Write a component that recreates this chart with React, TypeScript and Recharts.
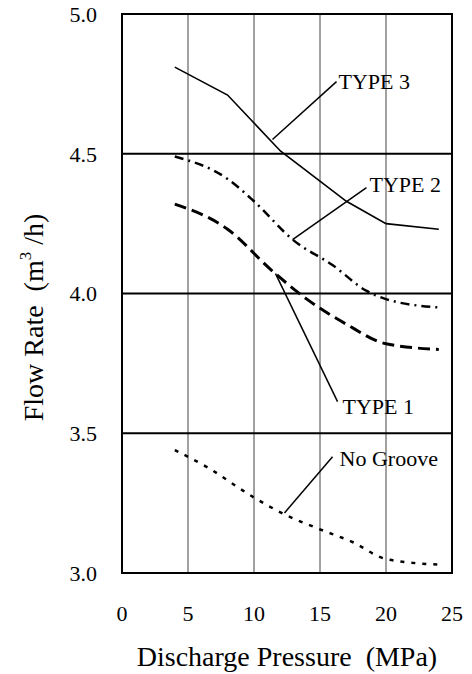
import {
  LineChart,
  Line,
  XAxis,
  YAxis,
  CartesianGrid,
  ReferenceLine,
  ReferenceArea,
  ReferenceDot,
  Label,
} from "recharts"

const xTicks = [0, 5, 10, 15, 20, 25]
const yTicks = [3.0, 3.5, 4.0, 4.5, 5.0]

// (MPa -> m3/h)
const type3Pressure = [4, 8, 12, 17, 20, 24]
const type3Flow = [4.81, 4.71, 4.51, 4.33, 4.25, 4.23]

const type2Pressure = [4, 8, 10, 13, 16, 18.5, 20, 24]
const type2Flow = [4.49, 4.41, 4.33, 4.19, 4.1, 4.01, 3.98, 3.95]

const type1Pressure = [4, 8, 11.4, 14, 17, 20, 24]
const type1Flow = [4.32, 4.23, 4.08, 3.98, 3.89, 3.82, 3.8]

const noGroovePressure = [4, 6.4, 10, 12.3, 14.8, 17.5, 20, 24]
const noGrooveFlow = [3.44, 3.38, 3.27, 3.21, 3.16, 3.11, 3.05, 3.03]

const toPoints = (xs: number[], ys: number[]) => xs.map((x, i) => ({ x, y: ys[i] }))

const type3Data = toPoints(type3Pressure, type3Flow)
const type2Data = toPoints(type2Pressure, type2Flow)
const type1Data = toPoints(type1Pressure, type1Flow)
const noGrooveData = toPoints(noGroovePressure, noGrooveFlow)

// callout labels and their leader lines, in data units
const callouts = [
  { text: "TYPE 3", at: [16.4, 4.76], from: [16.25, 4.758], to: [11.4, 4.551] },
  { text: "TYPE 2", at: [18.75, 4.39], from: [18.52, 4.379], to: [12.92, 4.193] },
  { text: "TYPE 1", at: [16.7, 3.595], from: [16.33, 3.613], to: [11.63, 4.071] },
  { text: "No Groove", at: [16.48, 3.412], from: [15.95, 3.416], to: [12.31, 3.215] },
]

const serif = "Liberation Serif"

export default function App() {
  return (
    <div style={{ position: "absolute", left: 0, top: 0, background: "#fff" }}>
      <LineChart width={472} height={674} margin={{ top: 14, right: 20, bottom: 0, left: 0 }}>
        <CartesianGrid horizontal={false} stroke="#444" strokeWidth={1} />
        {[3.5, 4.0, 4.5].map((v) => (
          <ReferenceLine key={v} y={v} stroke="#000" strokeWidth={2} />
        ))}
        <ReferenceArea x1={0} x2={25} y1={3} y2={5} fill="none" stroke="#000" strokeWidth={2} />
        <XAxis
          dataKey="x"
          type="number"
          domain={[0, 25]}
          ticks={xTicks}
          allowDataOverflow
          height={101}
          axisLine={false}
          tickLine={false}
          tickSize={0}
          tickMargin={32}
          tick={{ fill: "#000", fontSize: 22, fontFamily: serif }}
        >
          <Label
            content={({ viewBox }: any) => (
              <text
                x={viewBox.x + viewBox.width / 2}
                y={viewBox.y + 93}
                textAnchor="middle"
                fill="#000"
                fontSize={28}
                fontFamily={serif}
                style={{ whiteSpace: "pre" }}
              >
                {"Discharge Pressure  (MPa)"}
              </text>
            )}
          />
        </XAxis>
        <YAxis
          dataKey="y"
          type="number"
          domain={[3, 5]}
          ticks={yTicks}
          allowDataOverflow
          width={122}
          axisLine={false}
          tickLine={false}
          tickSize={0}
          tickMargin={25}
          tickFormatter={(v: number) => v.toFixed(1)}
          tick={{ fill: "#000", fontSize: 22, fontFamily: serif }}
        >
          <Label
            content={({ viewBox }: any) => {
              const cx = viewBox.x + 33
              const cy = viewBox.y + viewBox.height / 2 + 24
              return (
                <text
                  transform={`translate(${cx},${cy}) rotate(-90)`}
                  textAnchor="middle"
                  dy="0.35em"
                  fill="#000"
                  fontSize={28}
                  fontFamily={serif}
                  style={{ whiteSpace: "pre" }}
                >
                  {"Flow Rate  (m"}
                  <tspan dy={-12} fontSize={17}>
                    3
                  </tspan>
                  <tspan dy={12}>{" /h)"}</tspan>
                </text>
              )
            }}
          />
        </YAxis>

        <Line
          data={type3Data}
          dataKey="y"
          type="linear"
          stroke="#000"
          strokeWidth={1.6}
          dot={false}
          isAnimationActive={false}
        />
        <Line
          data={type2Data}
          dataKey="y"
          type="monotone"
          stroke="#000"
          strokeWidth={2.5}
          strokeDasharray="9 5 2 5"
          dot={false}
          isAnimationActive={false}
        />
        <Line
          data={type1Data}
          dataKey="y"
          type="monotone"
          stroke="#000"
          strokeWidth={3}
          strokeDasharray="12 6"
          dot={false}
          isAnimationActive={false}
        />
        <Line
          data={noGrooveData}
          dataKey="y"
          type="monotone"
          stroke="#000"
          strokeWidth={2.5}
          strokeDasharray="4 7"
          dot={false}
          isAnimationActive={false}
        />

        {callouts.map((c) => (
          <ReferenceLine
            key={c.text + "-leader"}
            segment={[
              { x: c.from[0], y: c.from[1] },
              { x: c.to[0], y: c.to[1] },
            ]}
            stroke="#000"
            strokeWidth={1.5}
          />
        ))}
        {callouts.map((c) => (
          <ReferenceDot
            key={c.text}
            x={c.at[0]}
            y={c.at[1]}
            r={0}
            shape={(p: any) => (
              <text
                x={p.cx}
                y={p.cy}
                dy="0.35em"
                textAnchor="start"
                fill="#000"
                fontSize={22}
                fontFamily={serif}
              >
                {c.text}
              </text>
            )}
          />
        ))}
      </LineChart>
    </div>
  )
}
